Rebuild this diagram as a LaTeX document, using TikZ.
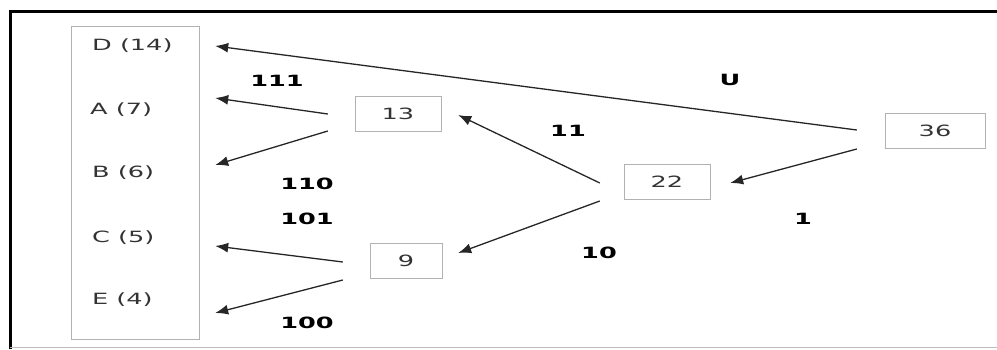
\documentclass[tikz,border=0pt]{standalone}
\usepackage{fontspec}
\setmainfont{DejaVu Sans}
\newfontfamily\boxfont[FakeStretch=1.65]{DejaVu Sans}
\usetikzlibrary{calc, positioning, arrows.meta}

\tikzset{
  sum/.style={draw=black!30, minimum height=35pt, inner sep=0pt,
    text=black!80, font=\boxfont\fontsize{15.5}{18}\selectfont},
  sym/.style={anchor=west, inner sep=0pt, text=black!80,
    font=\boxfont\fontsize{15.5}{18}\selectfont},
  code/.style={font=\boxfont\bfseries\fontsize{15.5}{18}\selectfont},
  link/.style={->, line width=1.3pt, draw=black!85}
}

\begin{document}
\begin{tikzpicture}[x=1pt, y=-1pt, >={Latex[length=13pt,width=10pt]}]
  \useasboundingbox (0,0) rectangle (997,349);
  % frame
  \draw[line width=3pt] (10,349) -- (10,11) -- (997,11);
  \draw[black!25] (10,347.5) -- (997,347.5);

  % symbols with their counts
  \node[draw=black!30, minimum width=128pt, minimum height=313pt] (syms) at (135,182.5) {};
  \node[sym] (sD) at (92,46) {D (14)};
  \node[sym] (sA) at (90,110) {A (7)};
  \node[sym] (sB) at (92,173) {B (6)};
  \node[sym] (sC) at (92,238) {C (5)};
  \node[sym] (sE) at (92,300) {E (4)};

  % merged sums
  \node[sum, minimum width=100pt] (n36) at (935,131) {36};
  \node[sum, minimum width=86pt] (n22) at (667,182) {22};
  \node[sum, minimum width=86pt] (n13) at (398,114) {13};
  \node[sum, minimum width=72pt] (n9) at (406,261) {9};

  % arrow ends
  \coordinate (tD) at ($(sD -| syms.east)+(16,0)$);
  \coordinate (tA) at ($(sA -| syms.east)+(16,-12)$);
  \coordinate (tB) at ($(sB -| syms.east)+(16,-8)$);
  \coordinate (tC) at ($(sC -| syms.east)+(16,8)$);
  \coordinate (tE) at ($(sE -| syms.east)+(16,13)$);

  \draw[link] ($(n36.west)+(-28,-1)$) -- (tD);
  \draw[link] ($(n36.west)+(-28,18)$) -- ($(n22.east)+(20,1)$);
  \draw[link] ($(n22.west)+(-24,1)$) -- ($(n13.east)+(17,1)$);
  \draw[link] ($(n22.west)+(-24,19)$) -- ($(n9.east)+(16,-8)$);
  \draw[link] ($(n13.west)+(-27,0)$) -- (tA);
  \draw[link] ($(n13.west)+(-27,17)$) -- (tB);
  \draw[link] ($(n9.west)+(-27,1)$) -- (tC);
  \draw[link] ($(n9.west)+(-27,19)$) -- (tE);

  % codes
  \node[code] (c111) at (277,81) {111};
  \node[code] (c110) at (307,184) {110};
  \node[code] (c101) at (307,219) {101};
  \node[code] (c100) at (307,323) {100};
  \node[code] (c11) at (568,131) {11};
  \node[code] (c10) at (599,253) {10};
  \node[code] (c0) at (730,80) {U};
  \node[code] (c1) at (803,219) {1};
\end{tikzpicture}
\end{document}
